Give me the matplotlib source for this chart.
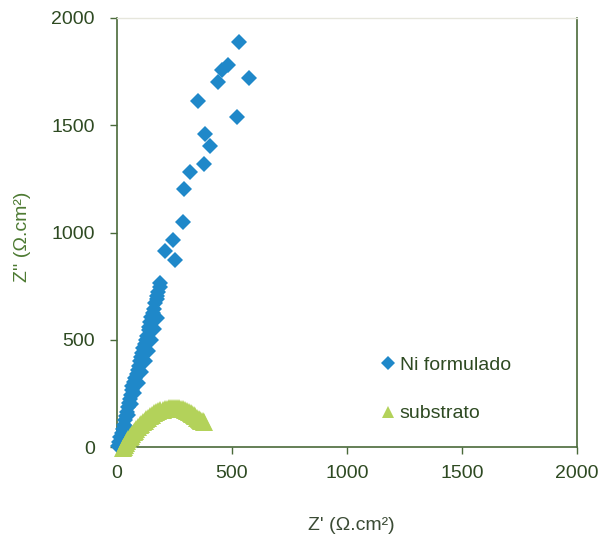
import matplotlib
matplotlib.use("Agg")
import matplotlib.pyplot as plt

# Ni formulado (Nyquist, ohm.cm2)
ni_x = [5, 10, 15, 20, 26, 31, 36, 41, 45, 50, 54, 58, 61, 64, 67, 72, 78, 85,
        90, 95, 99, 104, 110, 115, 120, 126, 132, 140, 138, 145, 150, 155, 160,
        167, 172, 176, 180, 186, 187,
        22, 35, 48, 62, 76, 92, 106, 120, 134, 150, 162, 172,
        209, 252, 245, 286, 293, 317, 378, 404, 383, 523, 354, 440, 575, 455,
        484, 530]
ni_y = [5, 25, 45, 65, 85, 105, 125, 145, 165, 185, 205, 225, 245, 265, 285,
        305, 320, 340, 360, 380, 400, 420, 440, 460, 480, 500, 520, 545, 560,
        585, 605, 625, 645, 670, 690, 705, 725, 745, 766,
        50, 100, 150, 200, 250, 300, 350, 400, 450, 500, 550, 600,
        913, 874, 964, 1048, 1204, 1282, 1318, 1403, 1458, 1536, 1614, 1703,
        1718, 1755, 1779, 1889]

# substrato
sub_x = [28, 32, 36, 40, 45, 50, 55, 60, 66, 72, 78, 84, 91, 98, 105, 112,
         120, 128, 136, 144, 153, 162, 171, 180, 189, 198, 207, 216, 225, 234,
         243, 252, 261, 270, 279, 288, 296, 304, 312, 320, 327, 334, 341, 348,
         355, 361, 367, 373, 379]
sub_y = [-6, 3, 12, 21, 29, 37, 45, 53, 61, 69, 77, 85, 93, 101, 109, 116,
         124, 131, 138, 145, 151, 157, 162, 167, 171, 175, 178, 180, 182, 183,
         184, 184, 183, 182, 180, 177, 174, 170, 165, 160, 155, 149, 143, 138,
         132, 127, 123, 120, 118]

ticks = [0, 500, 1000, 1500, 2000]

BLUE = "#1f88c9"
GREEN = "#b3d25a"
AXIS = "#4a6a3a"
TXT = "#2e4a22"

plt.rcParams["font.family"] = ["Liberation Sans", "DejaVu Sans"]

fig = plt.figure(figsize=(6.03, 5.42), dpi=100)
ax = fig.add_axes([0.194, 0.175, 0.763, 0.792])

ax.plot(ni_x, ni_y, ls="none", marker="D", ms=8.5, mew=0, color=BLUE,
        label="Ni formulado", clip_on=False, zorder=3)
ax.plot(sub_x, sub_y, ls="none", marker="^", ms=13.5, mew=0, color=GREEN,
        label="substrato", clip_on=False, zorder=4)

ax.set_xlim(0, 2000)
ax.set_ylim(0, 2000)
ax.set_xticks(ticks)
ax.set_yticks(ticks)
ax.tick_params(axis="both", direction="out", length=5, width=1, color=AXIS,
               labelcolor=TXT, labelsize=14)
ax.tick_params(axis="y", pad=11)
ax.tick_params(axis="x", pad=8)

for side in ["left", "bottom", "right"]:
    ax.spines[side].set_color(AXIS)
    ax.spines[side].set_linewidth(1.2)
ax.spines["top"].set_color("#e6e6dc")
ax.spines["top"].set_linewidth(1)

ax.set_ylabel("Z'' (Ω.cm²)", fontsize=14, color="#4d7a32", va="center")
ax.yaxis.set_label_coords(-0.205, 0.49)
ax.set_xlabel("Z' (Ω.cm²)", fontsize=14, color="#3b4b35", va="center")
ax.xaxis.set_label_coords(0.51, -0.182)

leg = ax.legend(loc="center left", bbox_to_anchor=(0.572, 0.135),
                frameon=False, fontsize=14, handlelength=0.8,
                handletextpad=0.2, labelspacing=1.6, borderpad=0,
                borderaxespad=0)
leg.legend_handles[0].set_markersize(7)
leg.legend_handles[1].set_markersize(9)
for t in leg.get_texts():
    t.set_color(TXT)

fig.savefig("out.png", dpi=100)
